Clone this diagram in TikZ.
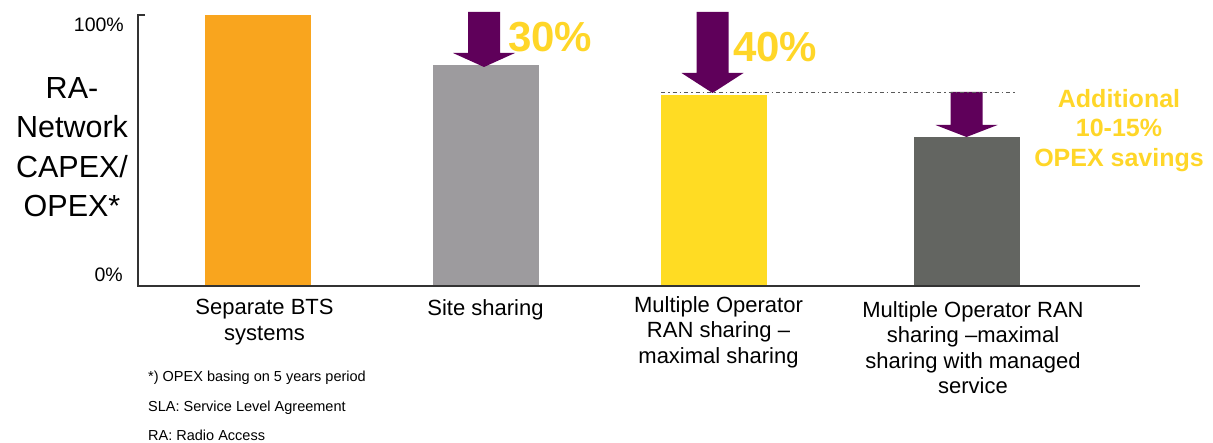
\documentclass[tikz,border=0pt]{standalone}
\usepackage{fontspec}
\setmainfont{Liberation Sans}
\definecolor{barorange}{RGB}{249, 165, 30}
\definecolor{bargray}{RGB}{157, 155, 158}
\definecolor{baryellow}{RGB}{255, 220, 35}
\definecolor{bardark}{RGB}{99, 101, 97}
\definecolor{cutpurple}{RGB}{95, 0, 90}
\definecolor{saveyellow}{RGB}{255, 214, 40}
\tikzset{
  catlabel/.style={anchor=north, inner sep=0pt, align=center, font=\fontsize{22}{25.5}\selectfont},
  savelabel/.style={inner sep=0pt, text=saveyellow, font=\bfseries\fontsize{42}{48}\selectfont},
  footlabel/.style={anchor=base west, inner sep=0pt, font=\fontsize{14.5}{16}\selectfont}
}
\begin{document}
\begin{tikzpicture}[x=1pt, y=-1pt]
  \useasboundingbox (0,0) rectangle (1213,443);
  % Bar chart
  \fill[barorange] (205,15) rectangle (311,286);
  \fill[bargray] (433,65) rectangle (539,286);
  \fill[baryellow] (661,95) rectangle (767,286);
  \fill[bardark] (914,137) rectangle (1020,286);

  % Axes
  \coordinate (top) at (145,15);
  \coordinate (origin) at (138,286);
  \coordinate (xend) at (1140,286);
  \draw[black!80, line width=1.2pt] (top) -| (origin) -- (xend);
  \node[anchor=base east, inner sep=0pt, font=\fontsize{19.5}{22}\selectfont] (hundred) at (124,31.5) {100\%};
  \node[anchor=base east, inner sep=0pt, font=\fontsize{19.5}{22}\selectfont] (zero) at (123,282) {0\%};
  \node[anchor=north, inner sep=0pt, align=center, font=\fontsize{30.5}{39.5}\selectfont] (ylabel) at (72,77)
    {RA-\\Network\\CAPEX/\\OPEX*};

  % Savings arrows
  \foreach \cx/\ytop/\yhead/\ytip in {484/12/53/67, 712.5/12/73/93, 966.5/92/125/137}
    \fill[cutpurple] (\cx-16,\ytop) -- (\cx+16,\ytop) -- (\cx+16,\yhead) -- (\cx+31,\yhead)
      -- (\cx,\ytip) -- (\cx-31,\yhead) -- (\cx-16,\yhead) -- cycle;

  % Reference level
  \coordinate (levelstart) at (661,93);
  \coordinate (levelend) at (1015,93);
  \draw[black!65, line width=1pt, dash pattern=on 4pt off 3pt on 1.5pt off 3pt] (levelstart) -- (levelend);

  \node[savelabel, anchor=base west] (save30) at (508,52) {30\%};
  \node[savelabel, anchor=base west] (save40) at (733,62) {40\%};
  \node[anchor=north, inner sep=0pt, align=center, text=saveyellow, font=\bfseries\fontsize{25}{29.5}\selectfont] (saveopex) at (1119,89)
    {Additional\\10-15\%\\OPEX savings};

  % Category labels
  \node[catlabel] (separate) at (264.5,299) {Separate BTS\\systems};
  \node[catlabel] (site) at (485.5,299) {Site sharing};
  \node[catlabel] (moran) at (718.5,296) {Multiple Operator\\RAN sharing --\\maximal sharing};
  \node[catlabel] (managed) at (973,301) {Multiple Operator RAN\\sharing --maximal\\sharing with managed\\service};

  % Footnotes
  \node[footlabel] (note) at (148,382) {*) OPEX basing on 5 years period};
  \node[footlabel] (sla) at (148,412) {SLA: Service Level Agreement};
  \node[footlabel] (ra) at (148,440) {RA: Radio Access};
\end{tikzpicture}
\end{document}
